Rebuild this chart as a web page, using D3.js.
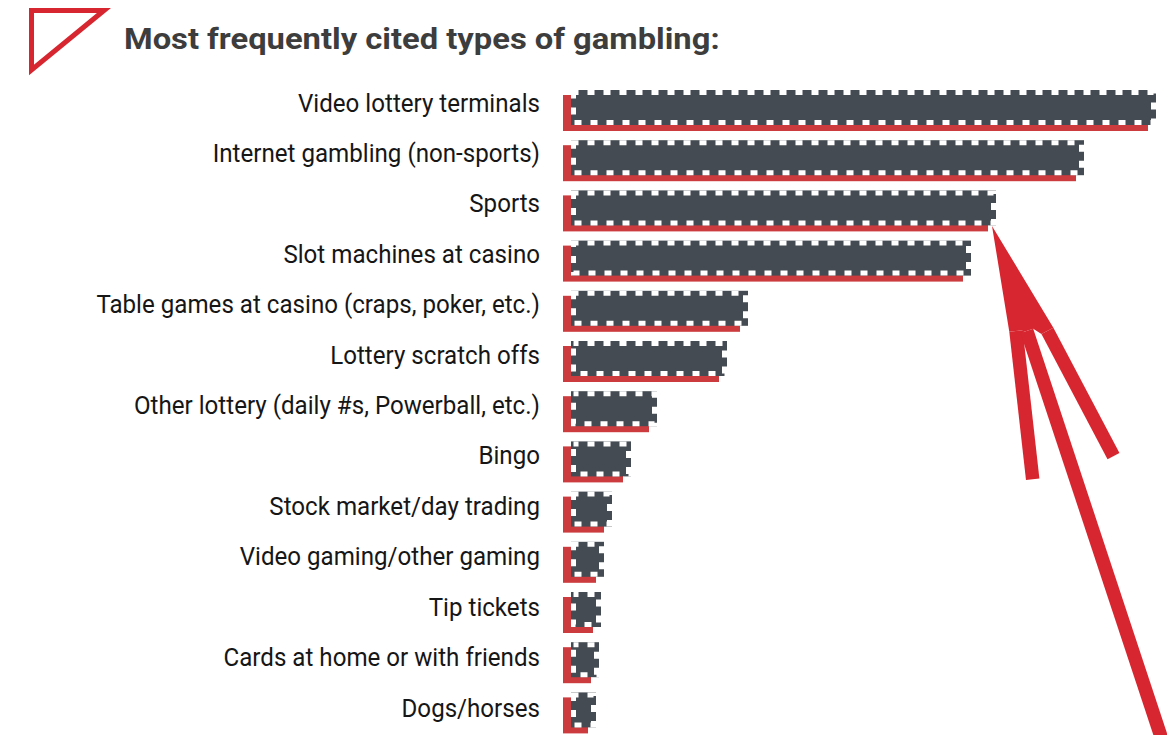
<!DOCTYPE html>
<html>
<head>
<meta charset="utf-8">
<script src="https://cdn.jsdelivr.net/npm/d3@7"></script>
<style>
  html, body { margin: 0; padding: 0; background: #ffffff; }
  svg { display: block; }
</style>
</head>
<body>
<script>
// ---- data ----
const titleText = "Most frequently cited types of gambling:";
const categories = [
  "Video lottery terminals",
  "Internet gambling (non-sports)",
  "Sports",
  "Slot machines at casino",
  "Table games at casino (craps, poker, etc.)",
  "Lottery scratch offs",
  "Other lottery (daily #s, Powerball, etc.)",
  "Bingo",
  "Stock market/day trading",
  "Video gaming/other gaming",
  "Tip tickets",
  "Cards at home or with friends",
  "Dogs/horses"
];
const values = [58.5, 51.3, 42.5, 40.0, 17.7, 15.6, 8.6, 6.0, 4.1, 3.3, 3.0, 2.8, 2.5];
const highlighted = "Sports";

// ---- layout ----
const W = 1167, H = 735;
const DARK = "#454b52", SHADOW = "#cc3b3e", ARROW = "#d7262f";

const svg = d3.select("body").append("svg")
  .attr("width", W).attr("height", H);

const x = d3.scaleLinear().domain([0, 60]).range([563, 1163]);
const y = d3.scaleBand().domain(categories).range([95, 733.4]).paddingInner(0.2829).paddingOuter(0);
const yLabel = d3.scalePoint().domain(categories).range([111.5, 716.5]);

const data = categories.map((c, i) => ({ cat: c, val: values[i] }));

// title icon
svg.append("polygon")
  .attr("points", [[31.5, 10.5], [104, 10.5], [31.5, 70]].map(p => p.join(",")).join(" "))
  .attr("fill", "none").attr("stroke", ARROW).attr("stroke-width", 5)
  .attr("stroke-linejoin", "miter").attr("stroke-miterlimit", 10);

// title
const title = svg.append("text")
  .attr("x", 0).attr("y", 0)
  .attr("font-family", "Roboto, 'Noto Sans', sans-serif")
  .attr("font-weight", 700).attr("font-size", 29.5)
  .attr("fill", "#3d3d3d")
  .text(titleText);
{
  const len = title.node().getComputedTextLength();
  const k = 596 / len;
  title.attr("transform", `translate(124,48.5) scale(${k},1)`);
}

// bars
const g = svg.append("g");
const bar = g.selectAll("g.bar").data(data).join("g").attr("class", "bar");

// red shadow
bar.append("rect")
  .attr("x", x(0))
  .attr("y", d => y(d.cat))
  .attr("width", d => x(d.val) - x(0))
  .attr("height", y.bandwidth())
  .attr("fill", SHADOW);

// dark bar (offset right/up), solid stroke then white dashed stroke
const dx = 8, dy = -5, sw = 5;
bar.append("rect")
  .attr("x", x(0) + dx + sw / 2)
  .attr("y", d => y(d.cat) + dy + sw / 2)
  .attr("width", d => x(d.val) - x(0) - sw)
  .attr("height", y.bandwidth() - 1 - sw)
  .attr("fill", DARK).attr("stroke", DARK).attr("stroke-width", sw);
bar.append("rect")
  .attr("x", x(0) + dx + sw / 2)
  .attr("y", d => y(d.cat) + dy + sw / 2)
  .attr("width", d => x(d.val) - x(0) - sw)
  .attr("height", y.bandwidth() - 1 - sw)
  .attr("fill", "none").attr("stroke", "#ffffff").attr("stroke-width", sw)
  .attr("stroke-dasharray", "7,9").attr("stroke-dashoffset", 2);

// labels
const labels = g.selectAll("text.lab").data(data).join("text")
  .attr("class", "lab")
  .attr("x", 0).attr("y", 0)
  .attr("text-anchor", "end")
  .attr("font-family", "Roboto, 'Noto Sans', sans-serif")
  .attr("font-size", 26.5)
  .attr("fill", "#161616")
  .text(d => d.cat);
let maxLen = 0;
labels.each(function () { maxLen = Math.max(maxLen, this.getComputedTextLength()); });
const kx = 444 / maxLen;
labels.attr("transform", d => `translate(540,${yLabel(d.cat)}) scale(${kx},1)`);

// arrow pointing at highlighted bar
const hv = values[categories.indexOf(highlighted)];
const tip = [x(hv) + dx - 4, y(highlighted) + dy + y.bandwidth() - 1 + 0.5];
// three strokes: [start, end] relative to tip (left, middle, right)
const strokes = [
  [[24, 105], [40.7, 253.3]],
  [[34.8, 105], [181, 547]],
  [[55.4, 105], [121.5, 230.3]]
];
const lw = 13.5;
const arrowG = svg.append("g").attr("fill", ARROW);
const geo = strokes.map(([s0, e0]) => {
  const s = [tip[0] + s0[0], tip[1] + s0[1]];
  const f = [tip[0] + e0[0], tip[1] + e0[1]];
  const L = Math.hypot(f[0] - s[0], f[1] - s[1]);
  const u = [(f[0] - s[0]) / L, (f[1] - s[1]) / L];
  const n = [u[1], -u[0]];
  return {
    sL: [s[0] - n[0] * lw / 2, s[1] - n[1] * lw / 2],
    sR: [s[0] + n[0] * lw / 2, s[1] + n[1] * lw / 2],
    fL: [f[0] - n[0] * lw / 2, f[1] - n[1] * lw / 2],
    fR: [f[0] + n[0] * lw / 2, f[1] + n[1] * lw / 2]
  };
});
const wedge = [tip];
geo.forEach(o => { wedge.push(o.sL); wedge.push(o.sR); });
arrowG.append("path").attr("d", "M" + wedge.map(p => p.join(",")).join("L") + "Z");
geo.forEach(o => {
  arrowG.append("path").attr("d", "M" + [o.sL, o.fL, o.fR, o.sR].map(p => p.join(",")).join("L") + "Z");
});
</script>
</body>
</html>
